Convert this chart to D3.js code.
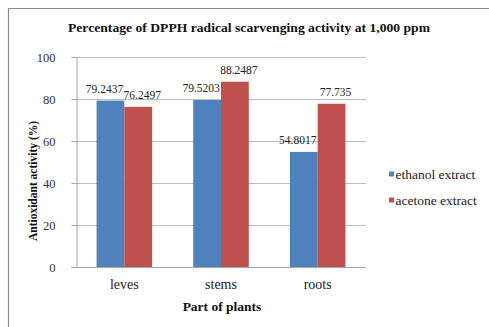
<!DOCTYPE html>
<html><head><meta charset="utf-8">
<script src="https://cdn.jsdelivr.net/npm/d3@7"></script>
<style>body{margin:0;background:#fff}svg{display:block}text{font-family:"Liberation Serif","Times New Roman",serif}</style>
</head><body>
<script>
const categories = ["leves", "stems", "roots"];
const seriesNames = ["ethanol extract", "acetone extract"];
const ethanolValues = [79.2437, 79.5203, 54.8017];
const acetoneValues = [76.2497, 88.2487, 77.735];
const valueLabels = [["79.2437", "79.5203", "54.8017"], ["76.2497", "88.2487", "77.735"]];
const yTicks = [0, 20, 40, 60, 80, 100];
const colors = ["#4F81BD", "#C0504D"];

(function () {
const W = 489, H = 327;
const svg = d3.select("body").append("svg").attr("width", W).attr("height", H);
svg.append("rect").attr("width", W).attr("height", H).attr("fill", "#fff");
svg.append("path").attr("d", `M8.5,${H} V8.5 H${W}`).attr("fill", "none").attr("stroke", "#8c8c8c").attr("stroke-width", 1.2);

const pLeft = 76, pRight = 366, pTop = 57, pBottom = 267;
const x0 = d3.scaleBand().domain(categories).range([pLeft, pRight]).padding(0);
const x1 = d3.scaleBand().domain(seriesNames).range([0, x0.bandwidth()]).paddingOuter(0.74).paddingInner(0);
const y = d3.scaleLinear().domain([0, 100]).range([pBottom, pTop]);

svg.append("g").selectAll("line").data(yTicks.filter(d => d > 0)).join("line")
  .attr("x1", pLeft).attr("x2", pRight).attr("y1", d => y(d) + 0.5).attr("y2", d => y(d) + 0.5)
  .attr("stroke", "#bdbdbd").attr("stroke-width", 1);

const series = [ethanolValues, acetoneValues];
series.forEach((vals, si) => {
  svg.append("g").selectAll("rect").data(vals).join("rect")
    .attr("x", (d, i) => x0(categories[i]) + x1(seriesNames[si]))
    .attr("width", x1.bandwidth())
    .attr("y", d => y(d)).attr("height", d => y(0) - y(d))
    .attr("fill", colors[si]);
});
series.forEach((vals, si) => {
  svg.append("g").selectAll("text").data(vals).join("text")
    .attr("x", (d, i) => x0(categories[i]) + x1(seriesNames[si]) + x1.bandwidth() / 2 + (si === 0 ? -6 : 4))
    .attr("y", d => y(d) - 8)
    .attr("text-anchor", "middle").attr("font-size", 11.5).attr("fill", "#222")
    .text((d, i) => valueLabels[si][i]);
});

const yAxis = svg.append("g").attr("transform", `translate(${pLeft + 0.5},0)`)
  .call(d3.axisLeft(y).tickValues(yTicks).tickSize(5).tickPadding(16));
yAxis.select(".domain").attr("stroke", "#a6a6a6");
yAxis.selectAll(".tick line").attr("stroke", "#a6a6a6");
yAxis.selectAll(".tick text").attr("font-size", 12.5).attr("fill", "#333").attr("font-family", "Liberation Serif");

const xAxis = svg.append("g").attr("transform", `translate(0,${pBottom + 0.5})`)
  .call(d3.axisBottom(x0).tickSize(0).tickPadding(12).tickSizeOuter(0));
xAxis.select(".domain").attr("stroke", "#a6a6a6").attr("d", `M${pLeft},0H${pRight}`);
xAxis.selectAll(".tick text").attr("font-size", 14).attr("fill", "#222").attr("font-family", "Liberation Serif");

svg.append("text").attr("x", 249).attr("y", 32).attr("text-anchor", "middle")
  .attr("font-size", 13.5).attr("font-weight", "bold").attr("fill", "#111")
  .attr("textLength", 362).attr("lengthAdjust", "spacingAndGlyphs")
  .text("Percentage of DPPH  radical scarvenging activity  at 1,000 ppm");
svg.append("text").attr("x", 222).attr("y", 311).attr("text-anchor", "middle")
  .attr("font-size", 13.5).attr("font-weight", "bold").attr("fill", "#111")
  .text("Part of plants");
svg.append("text").attr("transform", "translate(37,181) rotate(-90)").attr("text-anchor", "middle")
  .attr("font-size", 11.5).attr("font-weight", "bold").attr("fill", "#111")
  .text("Antioxidant activity (%)");

const lg = svg.append("g");
seriesNames.forEach((s, i) => {
  const cy = 175 + i * 26;
  lg.append("rect").attr("x", 389).attr("y", cy - 3.5).attr("width", 5).attr("height", 5).attr("fill", colors[i]);
  lg.append("text").attr("x", 395.5).attr("y", cy + 4).attr("font-size", 13.5).attr("fill", "#222").text(s);
});
})();
</script>
</body></html>
